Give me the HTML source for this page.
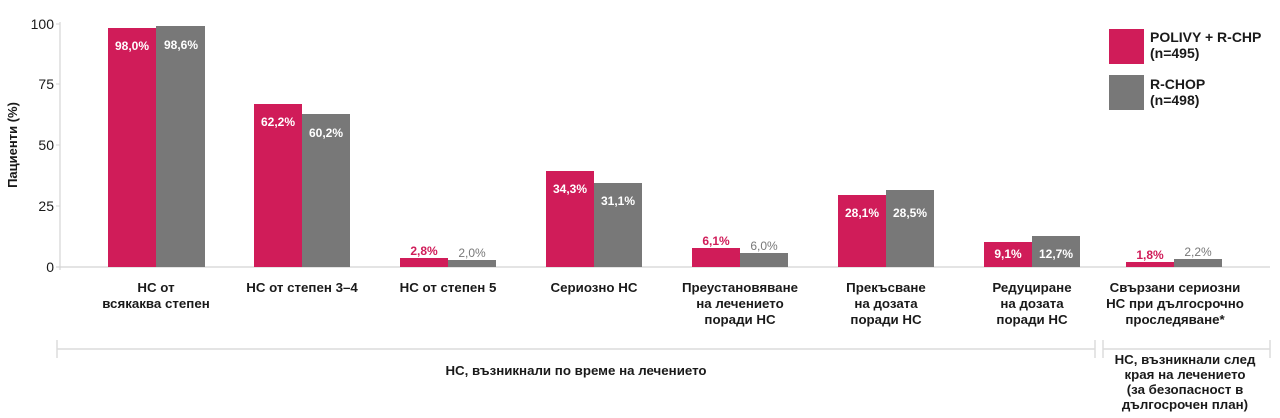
<!DOCTYPE html>
<html><head><meta charset="utf-8"><style>
html,body{margin:0;padding:0;background:#fff;width:1280px;height:418px;overflow:hidden}
svg{display:block;font-family:"Liberation Sans",Arial,sans-serif}
.c{font-size:13.3px;font-weight:bold;fill:#1a1a1a;text-anchor:middle}
.v{font-size:12px;font-weight:bold;text-anchor:middle}
.t{font-size:14px;fill:#1a1a1a;text-anchor:end}
.l{font-size:14px;font-weight:bold;fill:#1a1a1a}
</style></head><body>
<svg width="1280" height="418" viewBox="0 0 1280 418">
<line x1="60" y1="22" x2="60" y2="270" stroke="#d4d4d4" stroke-width="1.2"/>
<line x1="56" y1="267" x2="1270" y2="267" stroke="#d4d4d4" stroke-width="1.2"/>
<g stroke="#d4d4d4" stroke-width="1">
<line x1="56" y1="24" x2="60" y2="24"/><line x1="56" y1="84" x2="60" y2="84"/><line x1="56" y1="145" x2="60" y2="145"/><line x1="56" y1="206" x2="60" y2="206"/>
</g>
<text class="t" x="54" y="29">100</text>
<text class="t" x="54" y="89">75</text>
<text class="t" x="54" y="150">50</text>
<text class="t" x="54" y="211">25</text>
<text class="t" x="54" y="272">0</text>
<text transform="translate(17,145) rotate(-90)" font-size="13" font-weight="bold" fill="#1a1a1a" text-anchor="middle">Пациенти (%)</text>

<g fill="#d01c59">
<rect x="108" y="28" width="48" height="239"/>
<rect x="254" y="104" width="48" height="163"/>
<rect x="400" y="258" width="48" height="9"/>
<rect x="546" y="171" width="48" height="96"/>
<rect x="692" y="248" width="48" height="19"/>
<rect x="838" y="195" width="48" height="72"/>
<rect x="984" y="242" width="48" height="25"/>
<rect x="1126" y="262" width="48" height="5"/>
</g>
<g fill="#787878">
<rect x="156" y="26" width="49" height="241"/>
<rect x="302" y="114" width="48" height="153"/>
<rect x="448" y="260" width="48" height="7"/>
<rect x="594" y="183" width="48" height="84"/>
<rect x="740" y="253" width="48" height="14"/>
<rect x="886" y="190" width="48" height="77"/>
<rect x="1032" y="236" width="48" height="31"/>
<rect x="1174" y="259" width="48" height="8"/>
</g>
<g class="v" fill="#fff">
<text x="132" y="50">98,0%</text><text x="181" y="49">98,6%</text>
<text x="278" y="126">62,2%</text><text x="326" y="137">60,2%</text>
<text x="570" y="193">34,3%</text><text x="618" y="205">31,1%</text>
<text x="862" y="217">28,1%</text><text x="910" y="217">28,5%</text>
<text x="1008" y="258">9,1%</text><text x="1056" y="258">12,7%</text>
</g>
<g class="v">
<text x="424" y="255" fill="#d01c59">2,8%</text><text x="472" y="257" fill="#787878" font-weight="normal">2,0%</text>
<text x="716" y="245" fill="#d01c59">6,1%</text><text x="764" y="250" fill="#787878" font-weight="normal">6,0%</text>
<text x="1150" y="259" fill="#d01c59">1,8%</text><text x="1198" y="256" fill="#787878" font-weight="normal">2,2%</text>
</g>

<text class="c" x="156" y="292">НС от</text><text class="c" x="156" y="308">всякаква степен</text>
<text class="c" x="302" y="292">НС от степен 3–4</text>
<text class="c" x="448" y="292">НС от степен 5</text>
<text class="c" x="594" y="292">Сериозно НС</text>
<text class="c" x="740" y="292">Преустановяване</text><text class="c" x="740" y="308">на лечението</text><text class="c" x="740" y="324">поради НС</text>
<text class="c" x="886" y="292">Прекъсване</text><text class="c" x="886" y="308">на дозата</text><text class="c" x="886" y="324">поради НС</text>
<text class="c" x="1032" y="292">Редуциране</text><text class="c" x="1032" y="308">на дозата</text><text class="c" x="1032" y="324">поради НС</text>
<text class="c" x="1175" y="292">Свързани сериозни</text><text class="c" x="1175" y="308">НС при дългосрочно</text><text class="c" x="1175" y="324">проследяване*</text>

<g stroke="#dcdcdc" stroke-width="1.5">
<line x1="57" y1="349" x2="1095" y2="349"/>
<line x1="57" y1="340" x2="57" y2="358"/>
<line x1="1095" y1="340" x2="1095" y2="358"/>
<line x1="1103" y1="349" x2="1270" y2="349"/>
<line x1="1103" y1="340" x2="1103" y2="358"/>
<line x1="1270" y1="340" x2="1270" y2="358"/>
</g>
<text class="c" x="576" y="375">НС, възникнали по време на лечението</text>
<text class="c" x="1185" y="364">НС, възникнали след</text>
<text class="c" x="1185" y="379">края на лечението</text>
<text class="c" x="1185" y="394">(за безопасност в</text>
<text class="c" x="1185" y="409">дългосрочен план)</text>

<rect x="1109" y="29" width="35" height="35" fill="#d01c59"/>
<rect x="1109" y="75" width="35" height="35" fill="#787878"/>
<text class="l" x="1150" y="42">POLIVY + R-CHP</text>
<text class="l" x="1150" y="58">(n=495)</text>
<text class="l" x="1150" y="89">R-CHOP</text>
<text class="l" x="1150" y="105">(n=498)</text>
</svg>
</body></html>
